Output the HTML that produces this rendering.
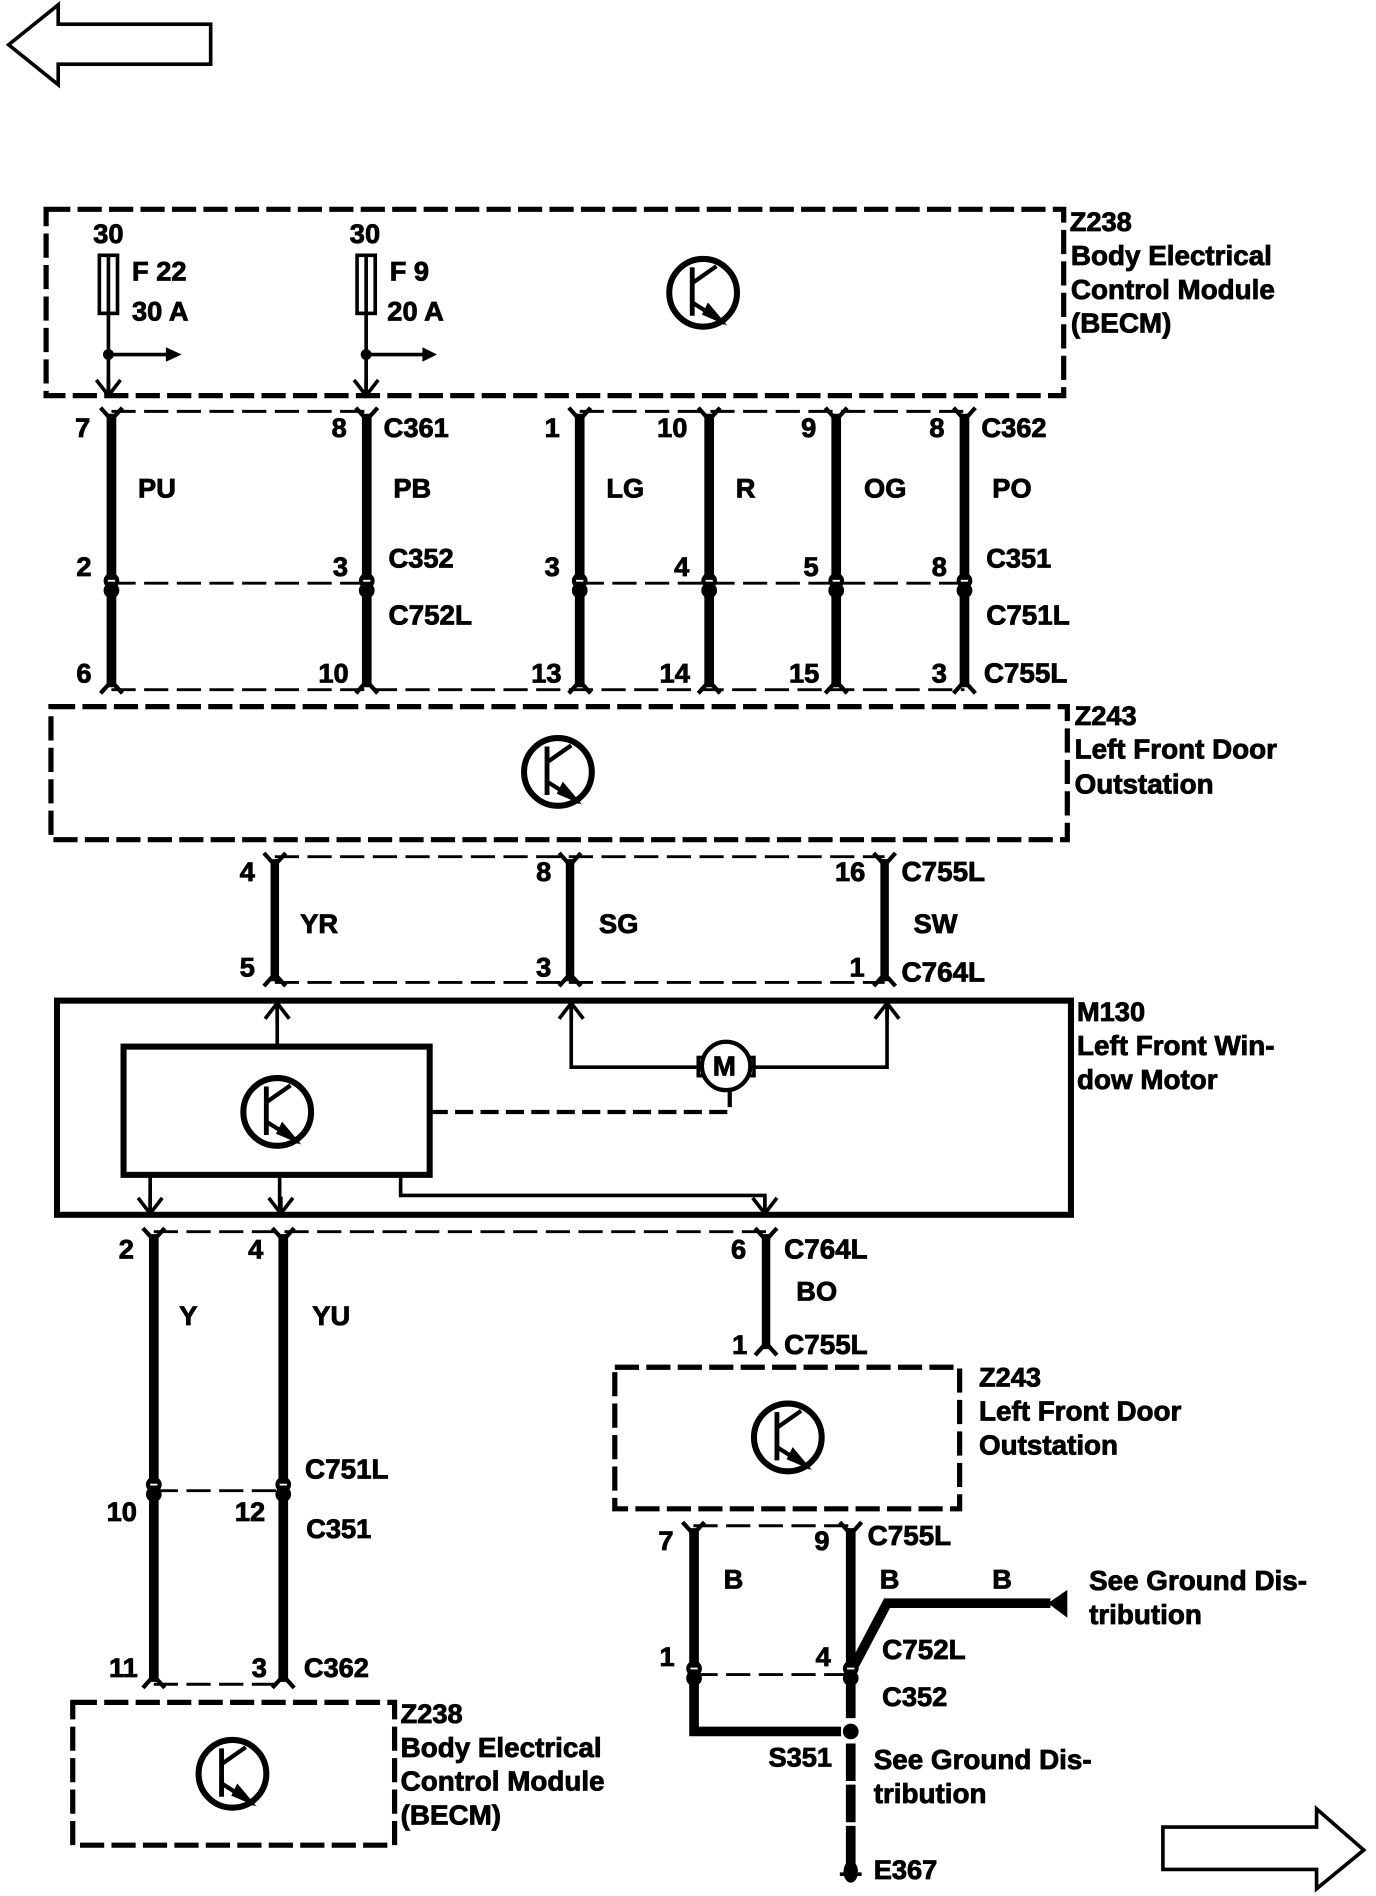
<!DOCTYPE html>
<html><head><meta charset="utf-8">
<style>
html,body{margin:0;padding:0;background:#fff}
svg{display:block}
text{font-family:"Liberation Sans",Arial,sans-serif;font-weight:bold;font-size:22.5px;fill:#000;stroke:#000;stroke-width:.7}
text.l{font-size:23px}
.w{stroke:#000;stroke-width:8;fill:none}
.d{stroke:#000;stroke-width:2.400;fill:none;stroke-dasharray:20 7}
.b{stroke:#000;stroke-width:4.300;fill:none;stroke-dasharray:20 6}
.s{stroke:#000;stroke-width:5;fill:none}
.a{stroke:#000;stroke-width:3;fill:none}
</style></head><body>
<svg width="1376" height="1896" viewBox="0 0 1137 1567" xmlns="http://www.w3.org/2000/svg">
<defs>
<g id="tr">
<circle r="28" fill="#fff" stroke="#000" stroke-width="5"/>
<path d="M-9 -21V19" stroke="#000" stroke-width="4" fill="none"/>
<path d="M-9 -8L11 -22M-9 8L18 25" stroke="#000" stroke-width="3.500" fill="none"/>
<path d="M4 8L20 27L-1 18Z" fill="#000"/>
</g>
<path id="ft" d="M-9 -4L0 6L9 -4" stroke="#000" stroke-width="3.500" fill="none"/>
<path id="fb" d="M-9 4L0 -6L9 4" stroke="#000" stroke-width="3.500" fill="none"/>
<g id="mid"><circle cy="-3" r="6.500" fill="#000"/><circle cy="5" r="6.500" fill="#000"/><path d="M-3 -3H3" stroke="#fff" stroke-width="1.500"/></g>
<path id="ad" d="M-10 -13L0 0L10 -13M0 -14V0" stroke="#000" stroke-width="3" fill="none"/>
<path id="au" d="M-10 13L0 0L10 13M0 14V0" stroke="#000" stroke-width="3" fill="none"/>
</defs>

<!-- nav arrows -->
<polygon points="7,37 48,4 48,20 174,20 174,53 48,53 48,70" fill="#fff" stroke="#000" stroke-width="3"/>
<polygon points="961,1510 1088,1510 1088,1495 1127,1529 1088,1561 1088,1545 961,1545" fill="#fff" stroke="#000" stroke-width="3"/>

<!-- BECM top -->
<rect x="38" y="173" width="841" height="154" class="b"/>
<text x="884" y="191">Z238</text><text class="l" x="885" y="219">Body Electrical</text><text class="l" x="885" y="247">Control Module</text><text class="l" x="885" y="275">(BECM)</text>
<text x="77" y="201">30</text><text x="289" y="201">30</text>
<rect x="82" y="211" width="15" height="48" class="a"/><path d="M89.500 211V259" class="a"/>
<rect x="295" y="211" width="15" height="48" class="a"/><path d="M302.500 211V259" class="a"/>
<text x="109" y="232">F 22</text><text x="109" y="265">30 A</text>
<text x="322" y="232">F 9</text><text x="320" y="265">20 A</text>
<path d="M89.500 259V326M89.500 293H138M302.500 259V326M302.500 293H350" class="a"/>
<circle cx="89.500" cy="293" r="4.500" fill="#000"/><circle cx="302.500" cy="293" r="4.500" fill="#000"/>
<polygon points="137,287 150,293 137,299"/><polygon points="349,287 361,293 349,299"/>
<use href="#ad" x="89.500" y="327"/><use href="#ad" x="302.500" y="327"/>
<use href="#tr" x="581" y="242"/>

<!-- upper wires -->
<path d="M92 340H303M479 340H797M92 482H303M479 482H797M92 570H797" class="d"/>
<path d="M92 342V478M92 490V568M303 342V478M303 490V568M479 342V478M479 490V568M586 342V478M586 490V568M691 342V478M691 490V568M797 342V478M797 490V568" class="w"/>
<use href="#ft" x="92" y="341"/><use href="#ft" x="303" y="341"/><use href="#ft" x="479" y="341"/><use href="#ft" x="586" y="341"/><use href="#ft" x="691" y="341"/><use href="#ft" x="797" y="341"/>
<use href="#mid" x="92" y="483"/><use href="#mid" x="303" y="483"/><use href="#mid" x="479" y="483"/><use href="#mid" x="586" y="483"/><use href="#mid" x="691" y="483"/><use href="#mid" x="797" y="483"/>
<use href="#fb" x="92" y="569"/><use href="#fb" x="303" y="569"/><use href="#fb" x="479" y="569"/><use href="#fb" x="586" y="569"/><use href="#fb" x="691" y="569"/><use href="#fb" x="797" y="569"/>
<text x="62" y="361">7</text><text x="274" y="361">8</text><text x="317" y="361">C361</text><text x="450" y="361">1</text><text x="543" y="361">10</text><text x="662" y="361">9</text><text x="768" y="361">8</text><text x="811" y="361">C362</text>
<text x="114" y="411">PU</text><text x="325" y="411">PB</text><text x="501" y="411">LG</text><text x="608" y="411">R</text><text x="714" y="411">OG</text><text x="820" y="411">PO</text>
<text x="63" y="476">2</text><text x="275" y="476">3</text><text x="321" y="469">C352</text><text x="450" y="476">3</text><text x="557" y="476">4</text><text x="664" y="476">5</text><text x="770" y="476">8</text><text x="815" y="469">C351</text>
<text class="l" x="321" y="516">C752L</text><text class="l" x="815" y="516">C751L</text>
<text x="63" y="564">6</text><text x="263" y="564">10</text><text x="439" y="564">13</text><text x="545" y="564">14</text><text x="652" y="564">15</text><text x="770" y="564">3</text><text class="l" x="813" y="564">C755L</text>

<!-- Z243 mid -->
<rect x="42" y="584" width="840" height="110" class="b"/>
<use href="#tr" x="461" y="638"/>
<text x="888" y="599">Z243</text><text class="l" x="888" y="627">Left Front Door</text><text class="l" x="888" y="656">Outstation</text>

<path d="M227 708H731M227 812H731" class="d"/>
<path d="M227 710V811M471 710V811M731 710V811" class="w" style="stroke-width:7"/>
<use href="#ft" x="227" y="709"/><use href="#ft" x="471" y="709"/><use href="#ft" x="731" y="709"/>
<use href="#fb" x="227" y="811"/><use href="#fb" x="471" y="811"/><use href="#fb" x="731" y="811"/>
<text x="198" y="728">4</text><text x="443" y="728">8</text><text x="690" y="728">16</text><text class="l" x="745" y="728">C755L</text>
<text x="248" y="771">YR</text><text x="495" y="771">SG</text><text x="755" y="771">SW</text>
<text x="198" y="807">5</text><text x="443" y="807">3</text><text x="702" y="807">1</text><text class="l" x="745" y="811">C764L</text>

<!-- M130 -->
<rect x="47" y="827" width="838" height="177" class="s"/>
<rect x="102" y="865" width="253" height="106" class="s"/>
<use href="#tr" x="229" y="919"/>
<text x="890" y="844">M130</text><text class="l" x="890" y="872">Left Front Win-</text><text class="l" x="890" y="900">dow Motor</text>
<path d="M229 865V830M472 830V882H577M623 882H733V830M124 971V1002M231 971V1002M331 971V988H632V1002" class="a"/>
<use href="#au" x="229" y="829"/><use href="#au" x="472" y="829"/><use href="#au" x="733" y="829"/>
<use href="#ad" x="124" y="1003"/><use href="#ad" x="232" y="1003"/><use href="#ad" x="632" y="1003"/>
<path d="M355 919H603V902" stroke="#000" stroke-width="3.500" fill="none" stroke-dasharray="15 6"/>
<rect x="577" y="874" width="8" height="15" fill="#fff" stroke="#000" stroke-width="3"/>
<rect x="615" y="874" width="8" height="15" fill="#fff" stroke="#000" stroke-width="3"/>
<circle cx="600" cy="881" r="20" fill="#fff" stroke="#000" stroke-width="3.500"/>
<text x="589" y="889" style="font-size:23px">M</text>

<!-- lower left wires -->
<path d="M127 1018H633M127 1232H234M127 1392H234" class="d"/>
<path d="M127 1020V1227M127 1238V1390M234 1020V1227M234 1238V1390" class="w"/>
<path d="M633 1020V1115" class="w" style="stroke-width:7"/>
<use href="#ft" x="127" y="1019"/><use href="#ft" x="234" y="1019"/><use href="#ft" x="633" y="1019"/>
<use href="#mid" x="127" y="1230"/><use href="#mid" x="234" y="1230"/>
<use href="#fb" x="127" y="1391"/><use href="#fb" x="234" y="1391"/><use href="#fb" x="633" y="1116"/>
<text x="98" y="1040">2</text><text x="205" y="1040">4</text><text x="604" y="1040">6</text><text class="l" x="648" y="1040">C764L</text>
<text x="148" y="1095">Y</text><text x="258" y="1095">YU</text><text x="658" y="1075">BO</text>
<text x="605" y="1119">1</text><text class="l" x="648" y="1119">C755L</text>
<text class="l" x="252" y="1222">C751L</text><text x="88" y="1257">10</text><text x="194" y="1257">12</text><text x="253" y="1271">C351</text>
<text x="90" y="1386">11</text><text x="208" y="1386">3</text><text x="251" y="1386">C362</text>

<!-- BECM bottom -->
<rect x="60" y="1407" width="266" height="118" class="b"/>
<use href="#tr" x="192" y="1466"/>
<text x="331" y="1424">Z238</text><text class="l" x="331" y="1452">Body Electrical</text><text class="l" x="331" y="1480">Control Module</text><text class="l" x="331" y="1508">(BECM)</text>

<!-- Z243 lower -->
<rect x="508" y="1130" width="285" height="117" class="b"/>
<use href="#tr" x="651" y="1188"/>
<text x="809" y="1146">Z243</text><text class="l" x="809" y="1174">Left Front Door</text><text class="l" x="809" y="1202">Outstation</text>

<!-- lower right -->
<path d="M573 1261H703M573 1384H703" class="d"/>
<path d="M573.500 1263V1378M573.500 1390V1431H695M703 1263V1378M703 1390V1420" class="w"/>
<path d="M703 1382L733 1325H868" class="w"/>
<polygon points="866,1325 882,1314 882,1337"/>
<circle cx="703" cy="1431" r="6.500" fill="#000"/>
<path d="M703 1441V1540" class="w" style="stroke-dasharray:31 3"/>
<use href="#ft" x="573" y="1262"/><use href="#ft" x="703" y="1262"/>
<use href="#mid" x="573.500" y="1382"/><use href="#mid" x="703" y="1382"/>
<ellipse cx="703" cy="1547" rx="6" ry="9" fill="#000"/><path d="M694 1549H712" stroke="#000" stroke-width="3"/>
<text x="544" y="1281">7</text><text x="673" y="1281">9</text><text class="l" x="717" y="1277">C755L</text>
<text x="598" y="1313">B</text><text x="727" y="1313">B</text><text x="820" y="1313">B</text>
<text class="l" x="900" y="1314">See Ground Dis-</text><text class="l" x="900" y="1342">tribution</text>
<text x="545" y="1377">1</text><text x="674" y="1377">4</text><text class="l" x="729" y="1371">C752L</text><text x="729" y="1410">C352</text>
<text x="635" y="1460">S351</text><text class="l" x="722" y="1462">See Ground Dis-</text><text class="l" x="722" y="1490">tribution</text><text x="722" y="1553">E367</text>
</svg>
</body></html>
